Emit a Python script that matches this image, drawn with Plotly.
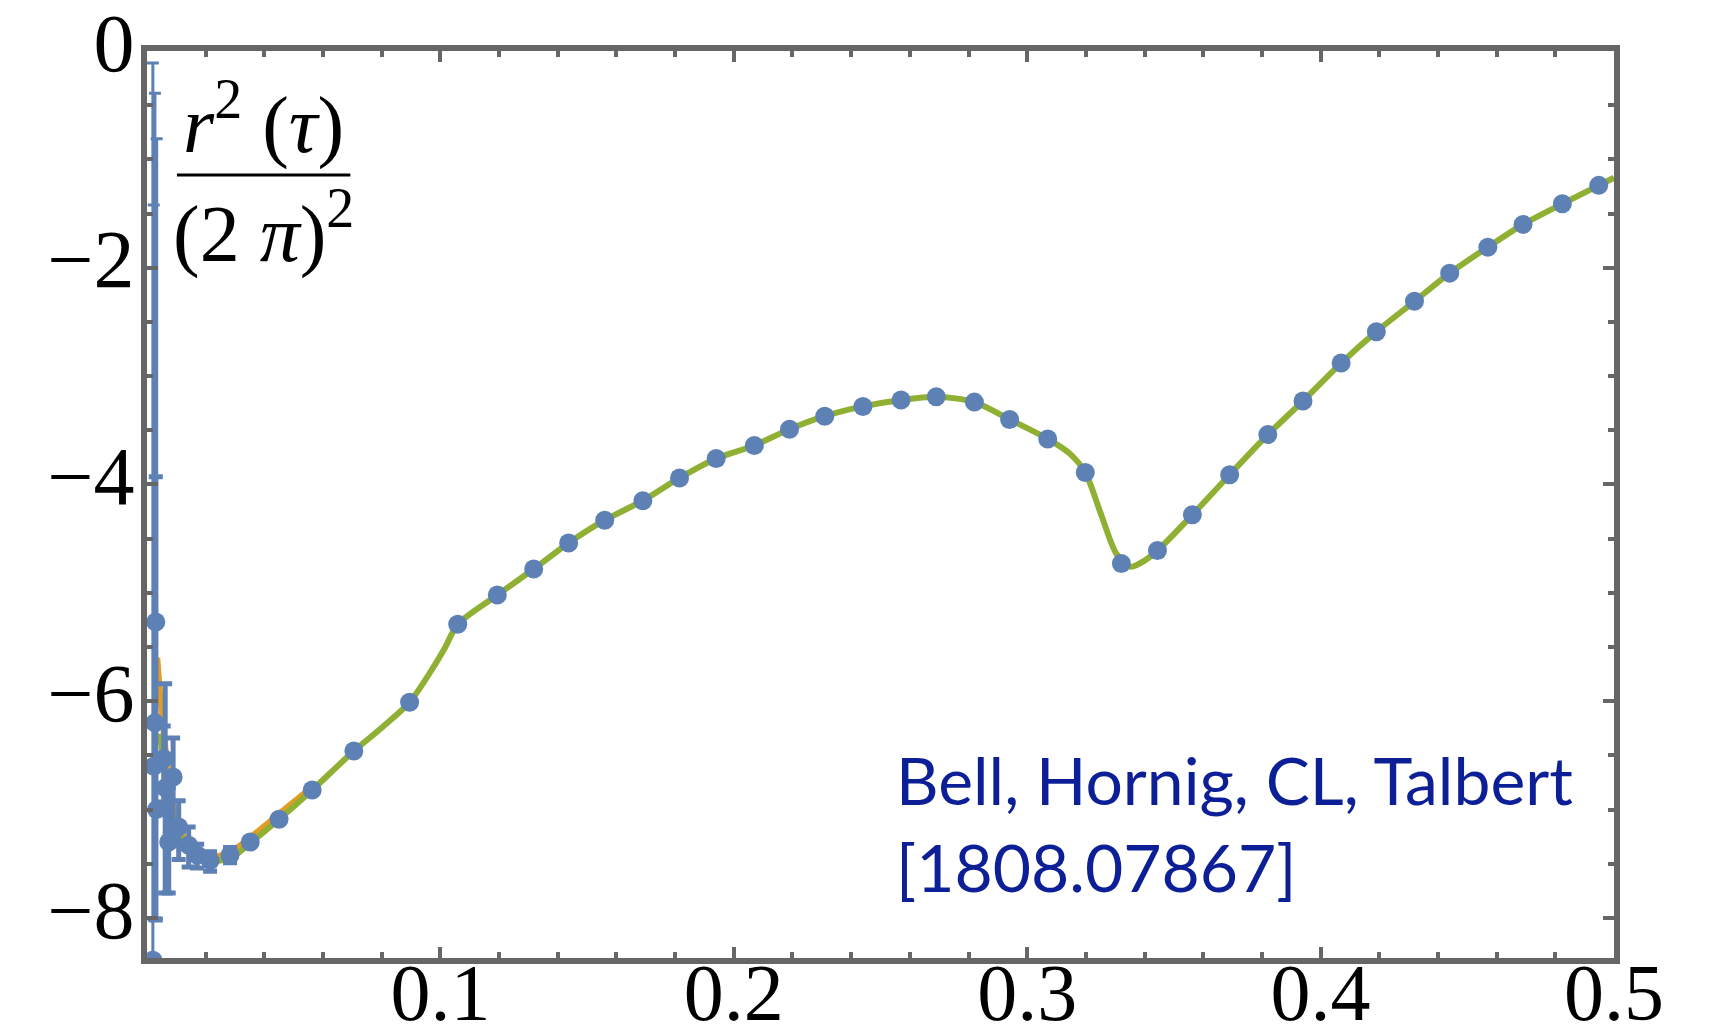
import plotly.graph_objects as go

# ---- data ----
# main lattice points (blue markers)
pts_x = [0.0450, 0.0563, 0.0705, 0.0895, 0.1059, 0.1194, 0.1318, 0.1437, 0.1560,
         0.1690, 0.1815, 0.1940, 0.2070, 0.2190, 0.2310, 0.2440, 0.2570, 0.2690,
         0.2820, 0.2940, 0.3070, 0.3198, 0.3321, 0.3444, 0.3563, 0.3690, 0.3820,
         0.3940, 0.4070, 0.4190, 0.4320, 0.4440, 0.4570, 0.4690, 0.4824, 0.4948]
pts_y = [-7.09, -6.82, -6.46, -6.01, -5.29, -5.02, -4.78, -4.54, -4.33,
         -4.15, -3.94, -3.76, -3.64, -3.49, -3.37, -3.28, -3.22, -3.19,
         -3.24, -3.40, -3.58, -3.89, -4.73, -4.61, -4.28, -3.91, -3.54,
         -3.23, -2.88, -2.59, -2.31, -2.05, -1.81, -1.60, -1.41, -1.24]

# smallest-tau points with very large error bars
wide_x = [0.0020, 0.0023, 0.0027, 0.0033]
wide_y = [-8.39, -6.60, -6.20, -7.00]
wide_plus = [8.28, 5.18, 5.81, 6.19]
wide_minus = [0.30, 1.42, 1.80, 1.00]

# small-tau points with error bars
err_x = [0.0030, 0.0057, 0.0062, 0.0074, 0.0089, 0.0108, 0.0142, 0.0171, 0.0215,
         0.0283, 0.0352]
err_y = [-5.27, -6.53, -6.80, -7.30, -6.70, -7.16, -7.33, -7.42, -7.47,
         -7.42, -7.30]
err_plus = [1.34, 0.30, 0.96, 0.50, 0.36, 0.24, 0.17, 0.10, 0.08, 0.07, 0.03]
err_minus = [2.75, 0.40, 0.97, 0.47, 0.60, 0.30, 0.20, 0.12, 0.10, 0.07, 0.03]

# green fit curve
fit_x = [0.0045, 0.0065, 0.0091, 0.0120, 0.0154, 0.0200, 0.0250, 0.0300, 0.0352,
         0.0450, 0.0563, 0.0705, 0.0802, 0.0895, 0.0973, 0.1017, 0.1059, 0.1194,
         0.1318, 0.1437, 0.1560, 0.1690, 0.1815, 0.1940, 0.2070, 0.2190, 0.2310,
         0.2440, 0.2570, 0.2690, 0.2820, 0.2940, 0.3070, 0.3147, 0.3198, 0.3251,
         0.3304, 0.3352, 0.3396, 0.3444, 0.3563, 0.3690, 0.3820, 0.3940, 0.4070,
         0.4190, 0.4320, 0.4440, 0.4570, 0.4690, 0.4824, 0.4948, 0.5000]
fit_y = [-6.30, -6.75, -7.07, -7.27, -7.39, -7.46, -7.47, -7.42, -7.31,
         -7.09, -6.82, -6.46, -6.24, -6.01, -5.70, -5.50, -5.29, -5.02,
         -4.78, -4.54, -4.33, -4.15, -3.94, -3.76, -3.64, -3.49, -3.37,
         -3.28, -3.22, -3.19, -3.24, -3.40, -3.58, -3.72, -3.89, -4.27,
         -4.64, -4.76, -4.71, -4.61, -4.28, -3.91, -3.54, -3.23, -2.88,
         -2.59, -2.31, -2.05, -1.81, -1.60, -1.41, -1.24, -1.17]

# orange curve (mostly hidden under the green one)
alt_x = [0.0035, 0.0050, 0.0068, 0.0090, 0.0125, 0.0170, 0.0220, 0.0290, 0.0360,
         0.0450, 0.0563]
alt_y = [-5.60, -6.10, -6.55, -6.95, -7.25, -7.40, -7.44, -7.38, -7.24,
         -7.04, -6.79]

x_ticks = [0.1, 0.2, 0.3, 0.4, 0.5]
x_ticktext = ["0.1", "0.2", "0.3", "0.4", "0.5"]
y_ticks = [0, -2, -4, -6, -8]
y_ticktext = ["0", "\u22122", "\u22124", "\u22126", "\u22128"]

BLUE = "#5E81B5"
GREEN = "#8FB032"
ORANGE = "#E19C24"
FRAME = "#666666"

fig = go.Figure()
fig.add_trace(go.Scatter(x=alt_x, y=alt_y, mode="lines",
                         line=dict(color=ORANGE, width=6, shape="spline"),
                         hoverinfo="skip", showlegend=False))
fig.add_trace(go.Scatter(x=fit_x, y=fit_y, mode="lines",
                         line=dict(color=GREEN, width=6, shape="spline", smoothing=0.8),
                         hoverinfo="skip", showlegend=False))
fig.add_trace(go.Scatter(x=wide_x, y=wide_y, mode="markers",
                         marker=dict(color=BLUE, size=19),
                         error_y=dict(type="data", array=wide_plus, arrayminus=wide_minus,
                                      color=BLUE, thickness=3, width=6),
                         showlegend=False))
fig.add_trace(go.Scatter(x=err_x, y=err_y, mode="markers",
                         marker=dict(color=BLUE, size=19),
                         error_y=dict(type="data", array=err_plus, arrayminus=err_minus,
                                      color=BLUE, thickness=5, width=7),
                         showlegend=False))
fig.add_trace(go.Scatter(x=pts_x, y=pts_y, mode="markers",
                         marker=dict(color=BLUE, size=19),
                         showlegend=False))

xfont = dict(family="Liberation Serif, Times New Roman, serif", size=80, color="black")
yfont = dict(family="Liberation Serif, Times New Roman, serif", size=82, color="black")

fig.update_xaxes(range=[0, 0.5], showgrid=False, zeroline=False, automargin=False,
                 showline=True, linecolor=FRAME, linewidth=6, mirror="allticks",
                 ticks="inside", ticklen=11, tickwidth=4, tickcolor=FRAME,
                 tickmode="array", tickvals=x_ticks, ticktext=x_ticktext,
                 tickfont=xfont, ticklabelstandoff=-40,
                 minor=dict(dtick=0.02, tick0=0, ticks="inside", ticklen=6,
                            tickwidth=4, tickcolor=FRAME, showgrid=False))
fig.update_yaxes(range=[-8.37, 0], showgrid=False, zeroline=False, automargin=False,
                 showline=True, linecolor=FRAME, linewidth=6, mirror="allticks",
                 ticks="inside", ticklen=11, tickwidth=4, tickcolor=FRAME,
                 tickmode="array", tickvals=y_ticks, ticktext=y_ticktext,
                 tickfont=yfont, ticklabelstandoff=-10, ticklabelshift=-9,
                 ticklabeloverflow="allow",
                 minor=dict(dtick=0.5, tick0=0, ticks="inside", ticklen=6,
                            tickwidth=4, tickcolor=FRAME, showgrid=False))

serif = dict(family="Liberation Serif, Times New Roman, serif", size=80, color="black")
fig.add_annotation(x=0.0396, y=-0.63, xref="x", yref="y", showarrow=False,
                   text="<i>r</i><sup>2</sup> (<i>\u03c4</i>)", font=serif,
                   xanchor="center", yanchor="middle")
fig.add_annotation(x=0.0396, y=-1.63, xref="x", yref="y", showarrow=False,
                   text="(2 <i>\u03c0</i>)<sup>2</sup>", font=serif,
                   xanchor="center", yanchor="middle")
fig.add_shape(type="line", xref="x", yref="y", x0=0.0102, x1=0.0693,
              y0=-1.145, y1=-1.145, line=dict(color="black", width=3))

cite = dict(family="Lato, Noto Sans, sans-serif", size=66, color="#0D1F96", weight=400)
fig.add_annotation(x=0.2547, y=-6.72, xref="x", yref="y", showarrow=False,
                   text="Bell, Hornig, CL, Talbert", font=cite,
                   xanchor="left", yanchor="middle")
fig.add_annotation(x=0.2547, y=-7.53, xref="x", yref="y", showarrow=False,
                   text="[1808.07867]", font=cite,
                   xanchor="left", yanchor="middle")

fig.update_layout(width=1717, height=1036,
                  margin=dict(l=147, r=103, t=51, b=78),
                  paper_bgcolor="white", plot_bgcolor="white")

fig.write_html("out.html")
